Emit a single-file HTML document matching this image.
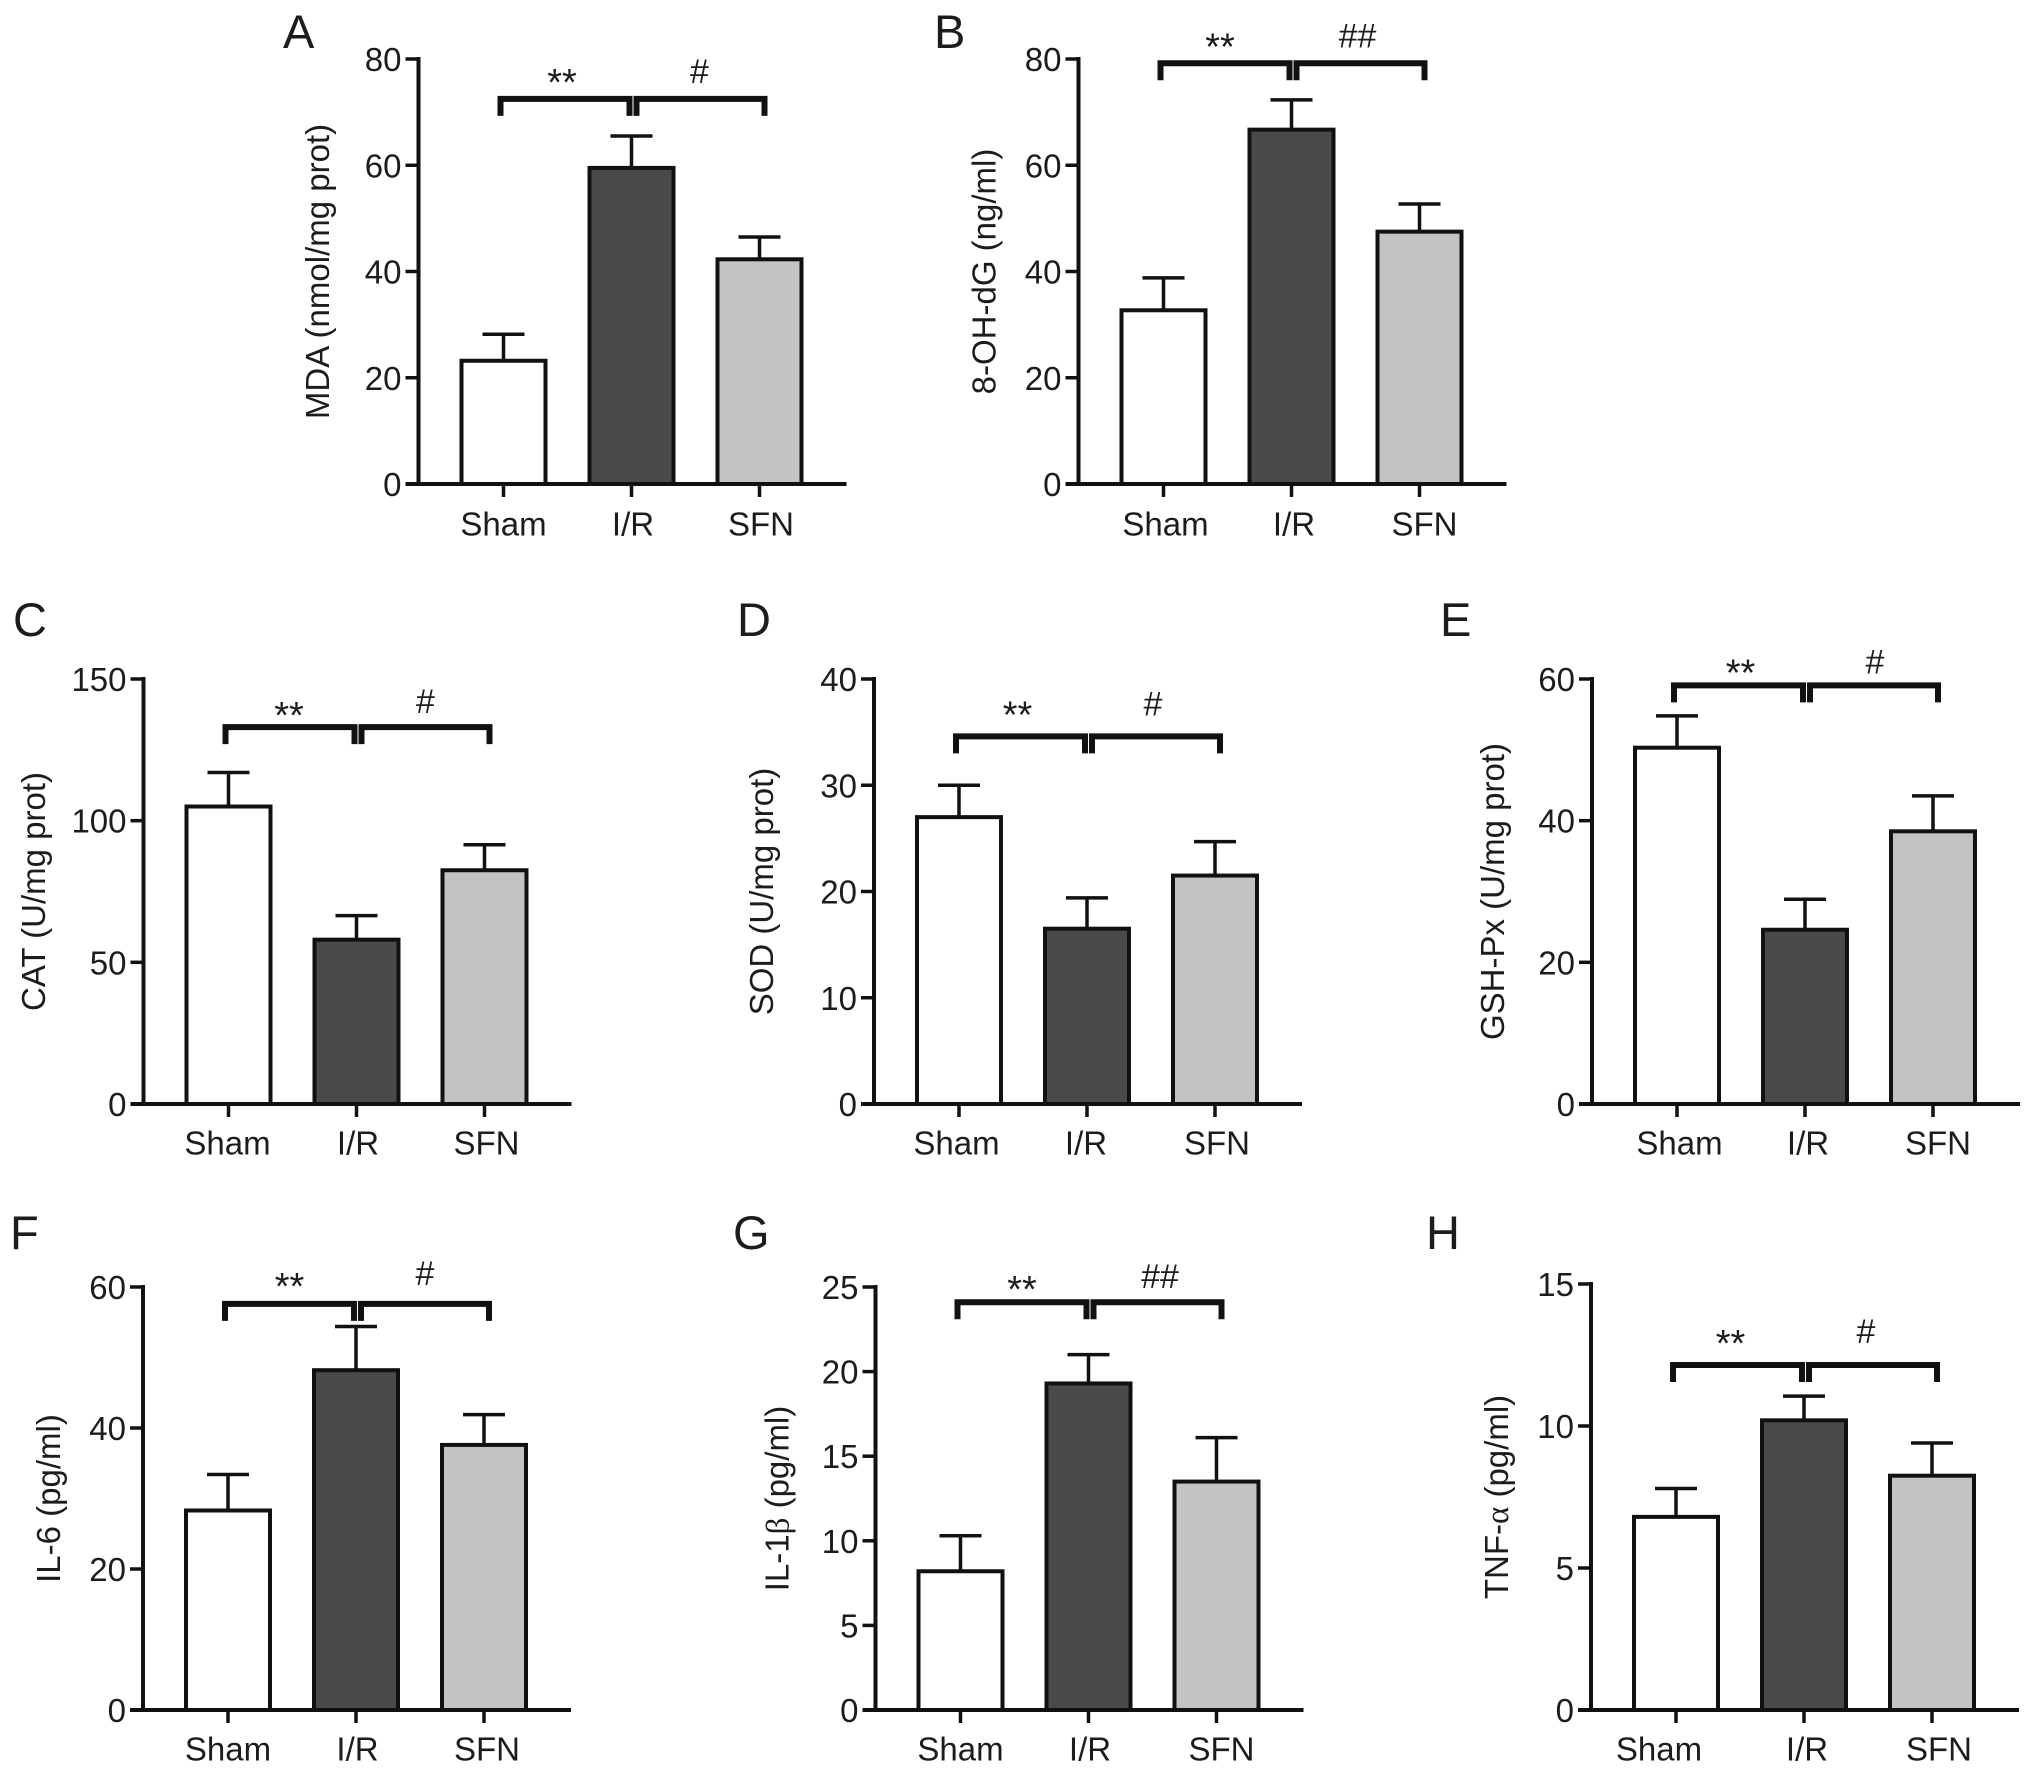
<!DOCTYPE html>
<html lang="en">
<head>
<meta charset="utf-8">
<title>Oxidative stress and cytokine bar charts</title>
<style>
  html, body { margin: 0; padding: 0; background: #fff; }
  svg { display: block; }
  text { font-family: "Liberation Sans", Arial, sans-serif; fill: #1c1c1c; }
</style>
</head>
<body>
<svg id="figure" xmlns="http://www.w3.org/2000/svg" width="2032" height="1774" viewBox="0 0 2032 1774"></svg>
<script>
// ---- Data ----
const categories = ["Sham", "I/R", "SFN"];
const panelLetters = ["A", "B", "C", "D", "E", "F", "G", "H"];
const yTitles = ["MDA (nmol/mg prot)", "8-OH-dG (ng/ml)", "CAT (U/mg prot)", "SOD (U/mg prot)", "GSH-Px (U/mg prot)", "IL-6 (pg/ml)", "IL-1|β| (pg/ml)", "TNF-|α| (pg/ml)"];
const yTicksA = [0, 20, 40, 60, 80];
const yTicksB = [0, 20, 40, 60, 80];
const yTicksC = [0, 50, 100, 150];
const yTicksD = [0, 10, 20, 30, 40];
const yTicksE = [0, 20, 40, 60];
const yTicksF = [0, 20, 40, 60];
const yTicksG = [0, 5, 10, 15, 20, 25];
const yTicksH = [0, 5, 10, 15];
const meansA = [23.2, 59.5, 42.3];
const meansB = [32.7, 66.7, 47.5];
const meansC = [105, 58, 82.5];
const meansD = [27, 16.5, 21.5];
const meansE = [50.3, 24.6, 38.5];
const meansF = [28.3, 48.2, 37.6];
const meansG = [8.2, 19.3, 13.5];
const meansH = [6.8, 10.2, 8.25];
const errorTopsA = [28.2, 65.5, 46.5];
const errorTopsB = [38.8, 72.3, 52.7];
const errorTopsC = [117, 66.5, 91.5];
const errorTopsD = [30, 19.4, 24.7];
const errorTopsE = [54.8, 28.9, 43.5];
const errorTopsF = [33.4, 54.4, 41.9];
const errorTopsG = [10.3, 21, 16.1];
const errorTopsH = [7.8, 11.05, 9.4];
const bracketLevels = [72.5, 79.2, 133, 34.6, 59.1, 57.6, 24.1, 12.15];
const leftMarks = ["**", "**", "**", "**", "**", "**", "**", "**"];
const rightMarks = ["#", "##", "#", "#", "#", "#", "##", "#"];

// ---- Layout (pixels, not data) ----
const layout = [
  { x0: 418.5, y0: 484,  h: 425, labelY: 51.5, titleDx: -100.5, letterX: 283,  letterY: 48,   starUp: 26, hashUp: 28, starDx: -3, hashDx: -1,  labelDx: [0, 1.5, 1.5] },
  { x0: 1078.5, y0: 484, h: 425, labelY: 51.5, titleDx: -94,    letterX: 934,  letterY: 48,   starUp: 26, hashUp: 28, starDx: -5, hashDx: -3,  labelDx: [2, 2.5, 5] },
  { x0: 143.5, y0: 1104, h: 425, labelY: 50.5, titleDx: -109.5, letterX: 13,   letterY: 636,  starUp: 21, hashUp: 26, starDx: -1, hashDx: 0,   labelDx: [-1, 1.5, 2] },
  { x0: 874,   y0: 1104, h: 425, labelY: 50.5, titleDx: -112,   letterX: 737,  letterY: 636,  starUp: 31, hashUp: 33, starDx: -3, hashDx: -3,  labelDx: [-2.5, -1, 2] },
  { x0: 1592,  y0: 1104, h: 425, labelY: 50.5, titleDx: -99,    letterX: 1440, letterY: 636,  starUp: 22, hashUp: 24, starDx: 2,  hashDx: 1,   labelDx: [2.5, 3, 5] },
  { x0: 143,   y0: 1710, h: 423, labelY: 50.5, titleDx: -94,    letterX: 10,   letterY: 1249, starUp: 27, hashUp: 31, starDx: 0,  hashDx: 0,   labelDx: [0, 1.5, 3] },
  { x0: 875.5, y0: 1710, h: 423, labelY: 50.5, titleDx: -98,    letterX: 733,  letterY: 1249, starUp: 22, hashUp: 26, starDx: 0,  hashDx: 2.5, labelDx: [0, 1.5, 5] },
  { x0: 1591,  y0: 1710, h: 426, labelY: 50.5, titleDx: -94,    letterX: 1426, letterY: 1249, starUp: 31, hashUp: 34, starDx: -7, hashDx: -7,  labelDx: [-17, 3, 7] }
];
const barColors = ["#ffffff", "#4a4a4a", "#c3c3c3"];
const INK = "#111111";
const AXIS_LEN = 428, BAR_W = 84, FIRST_BAR = 85, BAR_STEP = 128, CAP_W = 42;

const allTicks = [yTicksA, yTicksB, yTicksC, yTicksD, yTicksE, yTicksF, yTicksG, yTicksH];
const allMeans = [meansA, meansB, meansC, meansD, meansE, meansF, meansG, meansH];
const allTops = [errorTopsA, errorTopsB, errorTopsC, errorTopsD, errorTopsE, errorTopsF, errorTopsG, errorTopsH];

const NS = "http://www.w3.org/2000/svg";
const fig = document.getElementById("figure");

function make(tag, attrs, parent) {
  const el = document.createElementNS(NS, tag);
  for (const k in attrs) el.setAttribute(k, attrs[k]);
  parent.appendChild(el);
  return el;
}
function mark(el, name) {
  
  
  return el;
}

panelLetters.forEach(function (letter, p) {
  const L = layout[p];
  const ticks = allTicks[p];
  const yMax = ticks[ticks.length - 1];
  const yScale = function (v) { return L.y0 - (v / yMax) * L.h; };
  const xScale = function (i) { return L.x0 + FIRST_BAR + i * BAR_STEP; };
  const id = letter.toLowerCase();

  const g = make("g", {}, fig);
  mark(g, "panel-" + id);

  const letterEl = make("text", { x: L.letterX, y: L.letterY, "font-size": 47 }, g);
  letterEl.textContent = letter;
  mark(letterEl, "panel-label-" + id);

  // bars
  categories.forEach(function (cat, i) {
    const cx = xScale(i);
    const top = yScale(allMeans[p][i]);
    const errY = yScale(allTops[p][i]);

    const stem = make("line", { x1: cx, x2: cx, y1: top, y2: errY, stroke: INK, "stroke-width": 3.5 }, g);
    mark(stem, "error-stem-" + id + "-" + cat.toLowerCase());
    const cap = make("line", { x1: cx - CAP_W / 2, x2: cx + CAP_W / 2, y1: errY, y2: errY, stroke: INK, "stroke-width": 3.5 }, g);
    mark(cap, "error-cap-" + id + "-" + cat.toLowerCase());

    const bar = make("rect", { x: cx - BAR_W / 2, y: top, width: BAR_W, height: L.y0 - top, fill: barColors[i], stroke: INK, "stroke-width": 4 }, g);
    mark(bar, "bar-" + id + "-" + cat.toLowerCase());

    const xTick = make("line", { x1: cx, x2: cx, y1: L.y0, y2: L.y0 + 13, stroke: INK, "stroke-width": 3.5 }, g);
    mark(xTick, "x-tick-" + id + "-" + cat.toLowerCase());

    const xLab = make("text", { x: cx + L.labelDx[i], y: L.y0 + L.labelY, "font-size": 33, "text-anchor": "middle" }, g);
    xLab.textContent = cat;
    mark(xLab, "x-label-" + id + "-" + cat.toLowerCase());
  });

  // axes
  const yAxis = make("line", { x1: L.x0, x2: L.x0, y1: L.y0 - L.h - 2, y2: L.y0 + 2, stroke: INK, "stroke-width": 4 }, g);
  mark(yAxis, "y-axis-" + id);
  const xAxis = make("line", { x1: L.x0 - 13, x2: L.x0 + AXIS_LEN, y1: L.y0, y2: L.y0, stroke: INK, "stroke-width": 4 }, g);
  mark(xAxis, "x-axis-" + id);

  ticks.forEach(function (t) {
    const ty = yScale(t);
    const tk = make("line", { x1: L.x0 - 13, x2: L.x0, y1: ty, y2: ty, stroke: INK, "stroke-width": 3.5 }, g);
    mark(tk, "y-tick-" + id + "-" + t);
    const lab = make("text", { x: L.x0 - 17, y: ty + 12, "font-size": 33, "text-anchor": "end" }, g);
    lab.textContent = String(t);
    mark(lab, "y-tick-label-" + id + "-" + t);
  });

  // y title (|...| marks Greek run set in serif)
  const midY = L.y0 - L.h / 2;
  const tx = L.x0 + L.titleDx + 11;
  const title = make("text", { x: tx, y: midY, "font-size": 33, "text-anchor": "middle", transform: "rotate(-90 " + tx + " " + midY + ")" }, g);
  yTitles[p].split("|").forEach(function (part, k) {
    const span = make("tspan", k === 1 ? { "font-family": '"Liberation Serif", serif' } : {}, title);
    span.textContent = part;
  });
  mark(title, "y-axis-title-" + id);

  // significance brackets
  const by = yScale(bracketLevels[p]);
  const drop = 17;
  const spans = [
    { a: xScale(0) - 3, b: xScale(1) - 2, text: leftMarks[p], baseline: by - L.starUp + 22, size: 38, dx: L.starDx, key: "sham-vs-ir" },
    { a: xScale(1) + 5, b: xScale(2) + 5, text: rightMarks[p], baseline: by - L.hashUp + 12, size: 34, dx: L.hashDx, key: "ir-vs-sfn" }
  ];
  spans.forEach(function (s) {
    const path = make("path", {
      d: "M" + s.a + " " + (by + drop) + "V" + by + "H" + s.b + "V" + (by + drop),
      fill: "none", stroke: INK, "stroke-width": 6, "stroke-linejoin": "miter"
    }, g);
    mark(path, "bracket-" + id + "-" + s.key);
    const txt = make("text", { x: (s.a + s.b) / 2 + s.dx, y: s.baseline, "font-size": s.size, "text-anchor": "middle" }, g);
    txt.textContent = s.text;
    mark(txt, "significance-" + id + "-" + s.key);
  });
});
</script>
</body>
</html>
